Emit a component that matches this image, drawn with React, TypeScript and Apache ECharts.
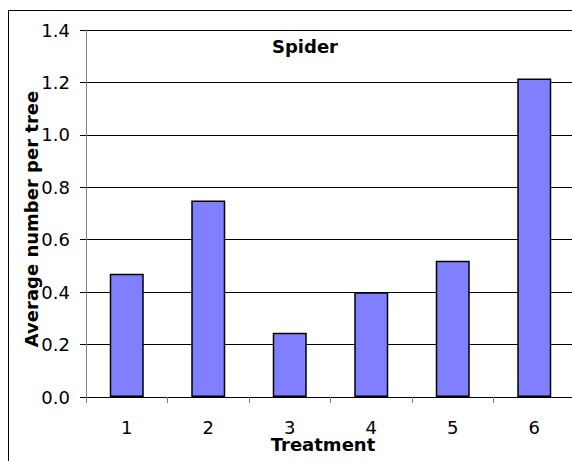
import React, { useEffect, useRef } from "react";
import * as echarts from "echarts";

const categories = ["1", "2", "3", "4", "5", "6"];
const values = [0.47, 0.75, 0.245, 0.4, 0.52, 1.215];
const yTicks = { min: 0, max: 1.4, interval: 0.2 };
const titleText = "Spider";
const xName = "Treatment";
const yName = "Average number per tree";

export default function App() {
  const ref = useRef<HTMLDivElement>(null);
  useEffect(() => {
    if (!ref.current) return;
    const chart = echarts.init(ref.current, null, { renderer: "svg" });
    const font = "'DejaVu Sans', 'Liberation Sans', Arial, sans-serif";
    chart.setOption({
      animation: false,
      backgroundColor: "#ffffff",
      grid: { left: 86, top: 30, right: -3, bottom: 64, containLabel: false, outerBoundsMode: "none" },
      xAxis: {
        type: "category",
        data: categories,
        axisLine: { lineStyle: { color: "#000", width: 1 } },
        axisTick: { show: true, length: 6, alignWithLabel: false, lineStyle: { color: "#808080" } },
        axisLabel: { color: "#000", fontSize: 18, fontFamily: font, margin: 21 },
        splitLine: { show: false },
      },
      yAxis: {
        type: "value",
        min: yTicks.min,
        max: yTicks.max,
        interval: yTicks.interval,
        axisLine: { show: true, lineStyle: { color: "#808080", width: 1 } },
        axisTick: { show: true, length: 6, lineStyle: { color: "#000" } },
        axisLabel: {
          color: "#000",
          fontSize: 18,
          fontFamily: font,
          margin: 16,
          formatter: (v: number) => v.toFixed(1),
        },
        splitLine: { show: true, lineStyle: { color: "#000", width: 1 } },
      },
      series: [
        {
          type: "bar",
          data: values,
          barWidth: 34,
          itemStyle: { color: "#8080FF", borderColor: "#000", borderWidth: 1.5 },
        },
      ],
      graphic: [
        {
          type: "rect",
          shape: { x: 8.5, y: 10.5, width: 700, height: 600 },
          style: { fill: "none", stroke: "#000", lineWidth: 1 },
          silent: true,
          z: 100,
        },
        {
          type: "text",
          x: 305,
          y: 46,
          style: {
            text: titleText,
            font: `bold 18px ${font}`,
            fill: "#000",
            textAlign: "center",
            textVerticalAlign: "middle",
          },
        },
        {
          type: "text",
          x: 323,
          y: 444,
          style: {
            text: xName,
            font: `bold 18px ${font}`,
            fill: "#000",
            textAlign: "center",
            textVerticalAlign: "middle",
          },
        },
        {
          type: "text",
          x: 31,
          y: 219,
          rotation: Math.PI / 2,
          style: {
            text: yName,
            font: `bold 18px ${font}`,
            fill: "#000",
            textAlign: "center",
            textVerticalAlign: "middle",
          },
        },
      ],
    });
    return () => chart.dispose();
  }, []);
  return (
    <div
      ref={ref}
      style={{ position: "fixed", left: 0, top: 0, width: 572, height: 461 }}
    />
  );
}
